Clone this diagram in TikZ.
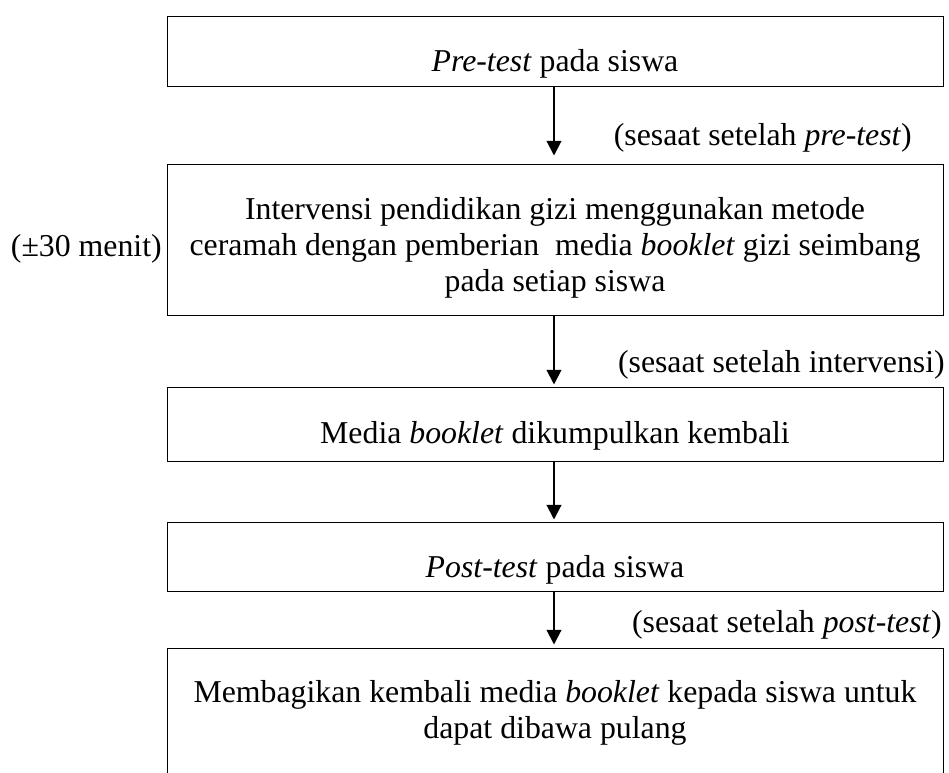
\documentclass[tikz,border=0pt]{standalone}
\usepackage{fontspec}
\setmainfont{Liberation Serif}
\usetikzlibrary{arrows.meta}
\tikzset{
  box/.style={draw=black, line width=0.75pt, rectangle, minimum width=776*0.75pt, inner sep=0pt},
  txt/.style={inner sep=0pt, align=center, font=\fontsize{23.85pt}{27pt}\selectfont},
  arr/.style={line width=1.5pt, -{Triangle[length=11pt,width=11pt]}},
}
\begin{document}
\begin{tikzpicture}[x=0.75pt,y=-0.75pt]
\useasboundingbox (0,0) rectangle (949,772);
\begin{scope}
\clip (0,0) rectangle (949,772);
\node[box, minimum height=70*0.75pt] (b1) at (555,51) {};
\node[box, minimum height=151*0.75pt] (b2) at (555,239.5) {};
\node[box, minimum height=74*0.75pt] (b3) at (555,424) {};
\node[box, minimum height=69*0.75pt] (b4) at (555,556.5) {};
\node[box, minimum height=160*0.75pt] (b5) at (555,728) {};
\end{scope}

\node[txt, anchor=base] (t1) at (555,71) {\textit{Pre-test} pada siswa};
\node[txt, anchor=base] (t2) at (555,291) {Intervensi pendidikan gizi menggunakan metode\\ceramah dengan pemberian~ media \textit{booklet} gizi seimbang\\pada setiap siswa};
\node[txt, anchor=base] (t3) at (555,443) {Media \textit{booklet} dikumpulkan kembali};
\node[txt, anchor=base] (t4) at (555,577) {\textit{Post-test} pada siswa};
\node[txt, anchor=base] (t5) at (555,738) {Membagikan kembali media \textit{booklet} kepada siswa untuk\\dapat dibawa pulang};

\node[txt, anchor=base east] (l1) at (912,145) {(sesaat setelah \textit{pre-test})};
\node[txt, anchor=base east] (l2) at (162,256) {(±30 menit)};
\node[txt, anchor=base east] (l3) at (945,372) {(sesaat setelah intervensi)};
\node[txt, anchor=base east] (l4) at (942,632) {(sesaat setelah \textit{post-test})};

\draw[arr, shorten >=8*0.75pt] ([xshift=-0.75pt]b1.south) -- ([xshift=-0.75pt]b2.north);
\draw[arr, shorten >=2*0.75pt] ([xshift=-0.75pt]b2.south) -- ([xshift=-0.75pt]b3.north);
\draw[arr, shorten >=2*0.75pt] ([xshift=-0.75pt]b3.south) -- ([xshift=-0.75pt]b4.north);
\draw[arr, shorten >=3*0.75pt] ([xshift=-0.75pt]b4.south) -- ([xshift=-0.75pt]b5.north);
\end{tikzpicture}
\end{document}
